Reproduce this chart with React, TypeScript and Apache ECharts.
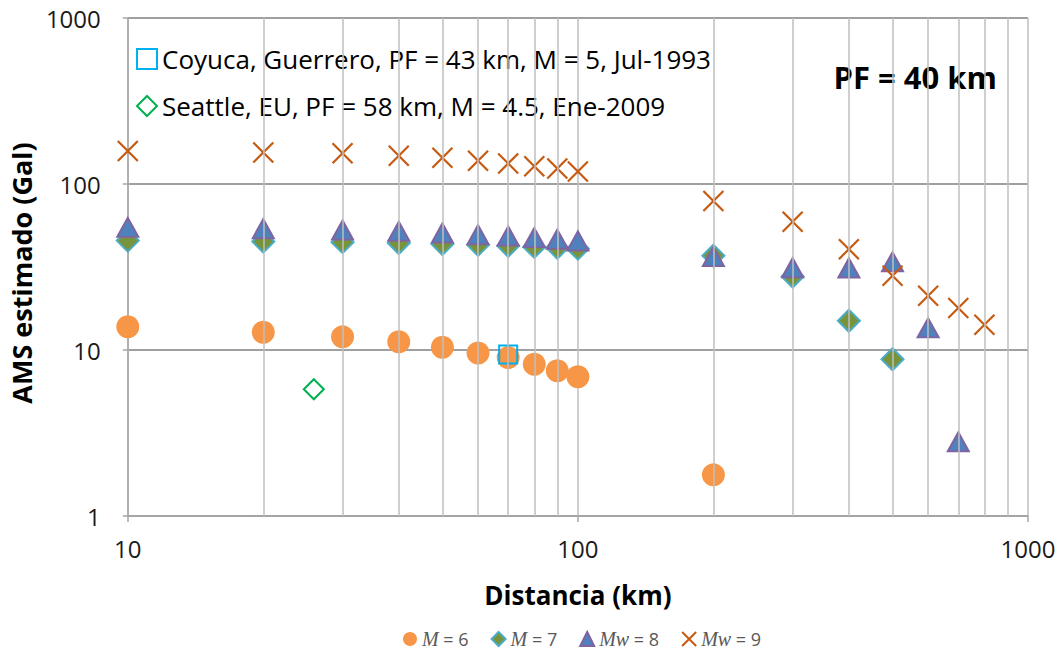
import React, { useEffect, useRef } from "react";
import * as echarts from "echarts";

const distances = [10, 20, 30, 40, 50, 60, 70, 80, 90, 100, 200, 300, 400, 500, 600, 700, 800];
const m6 = [13.8, 12.8, 12.0, 11.2, 10.4, 9.6, 9.0, 8.2, 7.5, 6.9, 1.77];
const m7 = [45.6, 45.0, 44.6, 44.1, 43.5, 43.0, 42.4, 41.8, 41.3, 40.8, 37.0, 27.7, 15.0, 8.8];
const m8 = [54.8, 53.8, 52.8, 51.9, 50.7, 49.5, 48.6, 47.5, 46.5, 45.4, 36.5, 31.3, 31.2, 34.0, 13.6, 2.8];
const m9 = [158, 155, 153, 148, 144, 138, 133, 128, 124, 119, 79, 59.3, 40.5, 28.0, 21.2, 17.9, 14.2];
const coyuca: [number, number][] = [[70, 9.4]];
const seattle: [number, number][] = [[25.9, 5.8]];
const minorGridX = [20, 30, 40, 50, 60, 70, 80, 90, 200, 300, 400, 500, 600, 700, 800, 900];

const seriesNames = ["M = 6", "M = 7", "Mw = 8", "Mw = 9"];
const refNames = [
  "Coyuca, Guerrero, PF = 43 km, M = 5, Jul-1993",
  "Seattle, EU, PF = 58 km, M = 4.5, Ene-2009",
];
const xTitle = "Distancia (km)";
const yTitle = "AMS estimado (Gal)";
const note = "PF = 40 km";

const pair = (vals: number[]) => vals.map((v, i) => [distances[i], v]);
const FONT = "'Open Sans', 'Noto Sans', sans-serif";

export default function App() {
  const ref = useRef<HTMLDivElement>(null);
  useEffect(() => {
    document.body.style.margin = "0";
    const chart = echarts.init(ref.current!, null, { renderer: "svg" });
    const xPath = "path://M0,0L10,10M10,0L0,10";
    chart.setOption({
      animation: false,
      backgroundColor: "#ffffff",
      textStyle: { fontFamily: FONT },
      grid: { left: 127, right: 33, top: 18, bottom: 136 },
      xAxis: {
        type: "log",
        logBase: 10,
        min: 10,
        max: 1000,
        name: xTitle,
        nameLocation: "middle",
        nameGap: 66,
        nameTextStyle: { fontSize: 26, fontWeight: "bold", color: "#000", fontFamily: FONT },
        axisLine: { lineStyle: { color: "#A6A6A6", width: 1.5 } },
        axisTick: { show: true, length: 6, lineStyle: { color: "#A6A6A6", width: 1.5 } },
        axisLabel: { fontSize: 24, color: "#1a1a1a", margin: 20, fontFamily: FONT, formatter: (v: number) => String(v) },
        splitLine: { show: true, lineStyle: { color: "#BFBFBF", width: 1.5 } },
      },
      yAxis: {
        type: "log",
        logBase: 10,
        min: 1,
        max: 1000,
        name: yTitle,
        nameLocation: "middle",
        nameGap: 84,
        nameTextStyle: { fontSize: 27, fontWeight: "bold", color: "#000", fontFamily: FONT, padding: [0, 12, 0, 0] },
        axisLine: { show: true, lineStyle: { color: "#A6A6A6", width: 1.5 } },
        axisTick: { show: true, length: 5, lineStyle: { color: "#A6A6A6", width: 1.5 } },
        axisLabel: { fontSize: 24, color: "#1a1a1a", margin: 27, fontFamily: FONT, formatter: (v: number) => String(v) },
        splitLine: { show: true, lineStyle: { color: "#A0A0A0", width: 2 } },
      },
      legend: [
        {
          data: seriesNames,
          top: 624,
          left: 398,
          itemWidth: 14,
          itemHeight: 14,
          itemGap: 22,
          formatter: (n: string) => n.replace(/^(Mw|M)/, "{i|$1}"),
          textStyle: {
            fontSize: 18,
            color: "#595959",
            fontFamily: FONT,
            rich: { i: { fontStyle: "italic", fontFamily: "'Liberation Serif', serif", fontSize: 20, color: "#595959" } },
          },
        },
        {
          data: refNames,
          orient: "vertical",
          left: 131,
          top: 41,
          itemWidth: 20,
          itemHeight: 20,
          itemGap: 21,
          textStyle: { fontSize: 26, color: "#000", fontFamily: FONT },
        },
      ],
      graphic: [
        {
          type: "text",
          right: 64,
          top: 61,
          style: { text: note, fontSize: 31, fontWeight: "bold", fill: "#000", fontFamily: FONT },
        },
      ],
      series: [
        {
          type: "scatter",
          name: "grid",
          data: [],
          silent: true,
          z: 1,
          markLine: {
            silent: true,
            symbol: "none",
            label: { show: false },
            lineStyle: { color: "#BFBFBF", width: 1.5, type: "solid" },
            data: minorGridX.map((v) => ({ xAxis: v })),
          },
        },
        {
          type: "scatter",
          name: seriesNames[0],
          data: pair(m6),
          symbol: "circle",
          symbolSize: 23,
          itemStyle: { color: "#F79646", opacity: 1 },
        },
        {
          type: "scatter",
          name: seriesNames[1],
          data: pair(m7),
          symbol: "diamond",
          symbolSize: 22,
          itemStyle: { color: "#77933C", borderColor: "#4BACC6", borderWidth: 2, opacity: 1 },
        },
        {
          type: "scatter",
          name: seriesNames[2],
          data: pair(m8),
          symbol: "triangle",
          symbolSize: [21, 19],
          itemStyle: { color: "#4F81BD", borderColor: "#8064A2", borderWidth: 2, opacity: 1 },
        },
        {
          type: "scatter",
          name: seriesNames[3],
          data: pair(m9),
          symbol: xPath,
          symbolSize: 20,
          itemStyle: { color: "rgba(0,0,0,0)", borderColor: "#C65A11", borderWidth: 2.2, opacity: 1 },
        },
        {
          type: "scatter",
          name: refNames[0],
          data: coyuca,
          symbol: "rect",
          symbolSize: 18,
          itemStyle: { color: "rgba(0,0,0,0)", borderColor: "#00B0F0", borderWidth: 2, opacity: 1 },
        },
        {
          type: "scatter",
          name: refNames[1],
          data: seattle,
          symbol: "diamond",
          symbolSize: 20,
          itemStyle: { color: "rgba(0,0,0,0)", borderColor: "#00B050", borderWidth: 2, opacity: 1 },
        },
      ],
    });
    return () => chart.dispose();
  }, []);
  return <div ref={ref} style={{ width: 1061, height: 652 }} />;
}
